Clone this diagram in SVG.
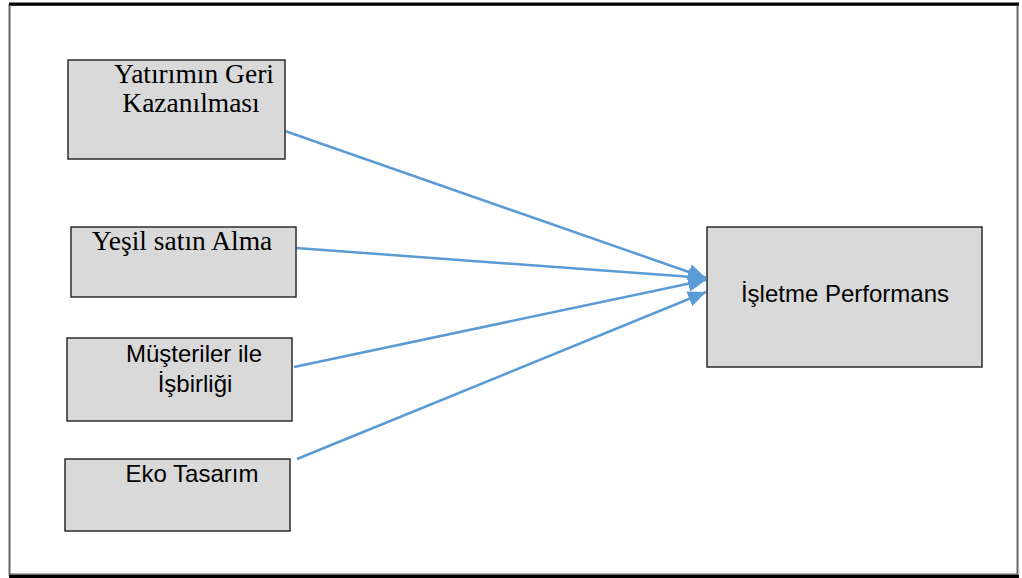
<svg xmlns="http://www.w3.org/2000/svg" width="1022" height="578" viewBox="0 0 1022 578">
<style>
.box{fill:#d9d9d9;stroke:#2b2b2b;stroke-width:1.5}
.serif{font-family:"Liberation Serif","Times New Roman",serif;font-size:27.5px;fill:#000;text-anchor:middle}
.sans{font-family:"Liberation Sans",Arial,sans-serif;font-size:24px;fill:#000;text-anchor:middle}
.conn{stroke:#5b9bd5;stroke-width:2.5;fill:none;marker-end:url(#ah)}
</style>
<defs>
<marker id="ah" markerUnits="userSpaceOnUse" markerWidth="20" markerHeight="16" refX="18" refY="8" orient="auto">
<path d="M0,0 L18,8 L0,16 Z" fill="#5b9bd5"/>
</marker>
</defs>
<rect width="1022" height="578" fill="#fff"/>
<rect x="9.5" y="5" width="1008" height="569.5" fill="none" stroke="#666" stroke-width="2"/>
<rect x="9" y="2.5" width="1010" height="3" fill="#000"/>
<rect x="9" y="575" width="1010" height="3" fill="#000"/>
<g id="connectors">
<line class="conn" x1="285" y1="131" x2="706" y2="278"/>
<line class="conn" x1="296" y1="248" x2="706" y2="278"/>
<line class="conn" x1="294" y1="367" x2="706" y2="280"/>
<line class="conn" x1="297" y1="459" x2="706" y2="292"/>
</g>
<g id="n1">
<rect class="box" x="68" y="60" width="217" height="99"/>
<text class="serif" x="194" y="83">Yatırımın Geri</text>
<text class="serif" x="191" y="112">Kazanılması</text>
</g>
<g id="n2">
<rect class="box" x="71" y="227" width="225" height="70"/>
<text class="serif" x="182" y="250">Yeşil satın Alma</text>
</g>
<g id="n3">
<rect class="box" x="67" y="338" width="225" height="83"/>
<text class="sans" x="194" y="362">Müşteriler ile</text>
<text class="sans" x="195" y="392">İşbirliği</text>
</g>
<g id="n4">
<rect class="box" x="65" y="459" width="225" height="72"/>
<text class="sans" x="192" y="482">Eko Tasarım</text>
</g>
<g id="n5">
<rect class="box" x="707" y="227" width="275" height="140"/>
<text class="sans" x="845" y="302">İşletme Performans</text>
</g>
</svg>
